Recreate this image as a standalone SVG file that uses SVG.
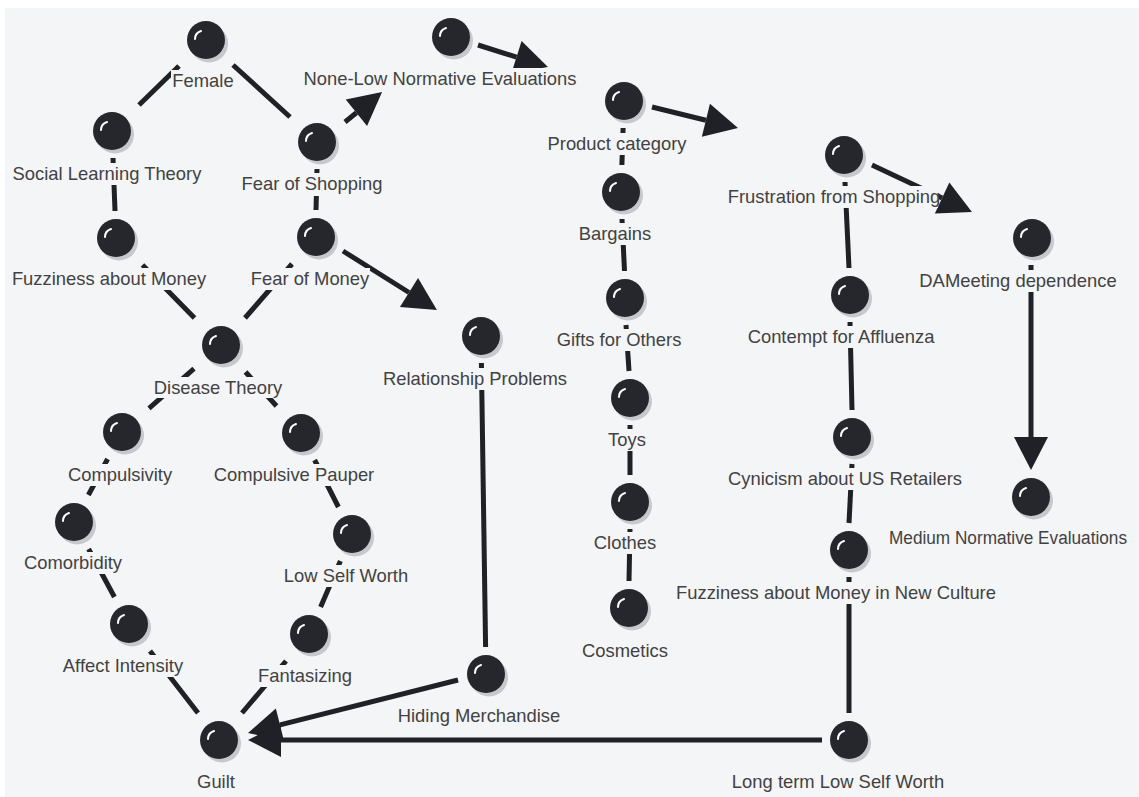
<svg xmlns="http://www.w3.org/2000/svg" width="1139" height="797" viewBox="0 0 1139 797">
<style>
.ln{stroke:#1f2126;stroke-width:5;fill:none;stroke-linecap:butt}
.ar{marker-end:url(#head)}
.lb{font-family:"Liberation Sans",Arial,sans-serif;font-size:18.4px;fill:#424242;text-anchor:middle}
.bg{fill:#f4f5f7}
</style>
<defs>
<marker id="head" markerUnits="userSpaceOnUse" markerWidth="34" markerHeight="36" refX="0" refY="18" orient="auto" overflow="visible">
<path d="M0,1 L33,18 L0,35 Z" fill="#1f2126"/>
</marker>
<g id="ball">
<circle cx="3" cy="3.5" r="19" fill="#c6c8ce"/>
<circle r="19" fill="#25272d"/>
<path d="M-11,-1 Q-11,-7 -5,-9" stroke="#ffffff" stroke-width="2" fill="none" stroke-linecap="round"/>
</g>
</defs>
<rect width="1139" height="797" fill="#ffffff"/>
<rect x="5" y="8" width="1134" height="789" fill="#f4f5f7"/>

<g id="connectors">
<line class="ln" x1="179" y1="66" x2="139" y2="105"/>
<line class="ln" x1="233" y1="65" x2="290" y2="117"/>
<line class="ln" x1="113" y1="158" x2="115" y2="211"/>
<line class="ln" x1="317" y1="169" x2="316" y2="210"/>
<line class="ln" x1="142.5" y1="265" x2="194.5" y2="318"/>
<line class="ln" x1="292" y1="264" x2="245" y2="318"/>
<line class="ln" x1="194" y1="368.7" x2="149" y2="408.3"/>
<line class="ln" x1="245.5" y1="372" x2="276.5" y2="406"/>
<line class="ln" x1="107.6" y1="459" x2="88.4" y2="495"/>
<line class="ln" x1="88.6" y1="549" x2="114.4" y2="597"/>
<line class="ln" x1="150" y1="651" x2="198" y2="713"/>
<line class="ln" x1="314.6" y1="460" x2="338.4" y2="507"/>
<line class="ln" x1="340.4" y1="561" x2="320.6" y2="607"/>
<line class="ln" x1="286" y1="661" x2="242" y2="713"/>
<line class="ln" x1="481.4" y1="363" x2="485.6" y2="647"/>
<line class="ln" x1="623.1" y1="128" x2="621.9" y2="165"/>
<line class="ln" x1="622" y1="219" x2="624.5" y2="271"/>
<line class="ln" x1="626" y1="325" x2="629" y2="371"/>
<line class="ln" x1="630" y1="425" x2="630" y2="475"/>
<line class="ln" x1="630" y1="529" x2="629" y2="581"/>
<line class="ln" x1="845" y1="182" x2="849" y2="268"/>
<line class="ln" x1="850" y1="322" x2="852" y2="410"/>
<line class="ln" x1="852" y1="464" x2="849" y2="523"/>
<line class="ln" x1="849" y1="577" x2="849" y2="713"/>
<line class="ln ar" x1="345" y1="122" x2="356.4" y2="112.8"/>
<line class="ln ar" x1="478" y1="45" x2="516.5" y2="57.1"/>
<line class="ln ar" x1="343" y1="251" x2="409" y2="292.5"/>
<line class="ln ar" x1="652" y1="107" x2="705.9" y2="120.2"/>
<line class="ln ar" x1="872" y1="165" x2="942.1" y2="198"/>
<line class="ln ar" x1="1031" y1="265" x2="1031" y2="437"/>
<line class="ln ar" x1="458" y1="680" x2="280" y2="724.9"/>
<line class="ln ar" x1="822" y1="740" x2="281" y2="740"/>
</g>

<g id="node-female"><rect class="bg" x="171" y="70" width="64" height="22"/><use href="#ball" x="206" y="40"/><text class="lb" x="203" y="87">Female</text></g>
<g id="node-social-learning"><rect class="bg" x="11" y="163" width="193" height="22"/><use href="#ball" x="112" y="131"/><text class="lb" x="107" y="180">Social Learning Theory</text></g>
<g id="node-fear-shopping"><rect class="bg" x="240" y="173" width="144" height="23"/><use href="#ball" x="317" y="142"/><text class="lb" x="312" y="190">Fear of Shopping</text></g>
<g id="node-fuzziness-money"><rect class="bg" x="11" y="268" width="195" height="22"/><use href="#ball" x="116" y="238"/><text class="lb" x="109" y="285">Fuzziness about Money</text></g>
<g id="node-fear-money"><rect class="bg" x="250" y="268" width="120" height="22"/><use href="#ball" x="316" y="237"/><text class="lb" x="310" y="285">Fear of Money</text></g>
<g id="node-none-low"><rect class="bg" x="302" y="68" width="277" height="22"/><use href="#ball" x="451" y="37"/><text class="lb" x="440" y="85">None-Low Normative Evaluations</text></g>
<g id="node-product-category"><rect class="bg" x="546" y="133" width="141" height="22"/><use href="#ball" x="624" y="101"/><text class="lb" x="617" y="150">Product category</text></g>
<g id="node-bargains"><rect class="bg" x="577" y="223" width="76" height="22"/><use href="#ball" x="621" y="192"/><text class="lb" x="615" y="240">Bargains</text></g>
<g id="node-gifts"><rect class="bg" x="555" y="329" width="129" height="22"/><use href="#ball" x="625" y="298"/><text class="lb" x="619" y="346">Gifts for Others</text></g>
<g id="node-toys"><rect class="bg" x="606" y="429" width="43" height="22"/><use href="#ball" x="630" y="398"/><text class="lb" x="627" y="446">Toys</text></g>
<g id="node-clothes"><rect class="bg" x="591" y="532" width="67" height="22"/><use href="#ball" x="630" y="502"/><text class="lb" x="625" y="549">Clothes</text></g>
<g id="node-cosmetics"><rect class="bg" x="580" y="640" width="89" height="22"/><use href="#ball" x="629" y="608"/><text class="lb" x="625" y="657">Cosmetics</text></g>
<g id="node-relationship"><rect class="bg" x="381" y="368" width="188" height="22"/><use href="#ball" x="481" y="336"/><text class="lb" x="475" y="385">Relationship Problems</text></g>
<g id="node-hiding"><rect class="bg" x="396" y="705" width="166" height="22"/><use href="#ball" x="486" y="674"/><text class="lb" x="479" y="722">Hiding Merchandise</text></g>
<g id="node-disease"><rect class="bg" x="152" y="377" width="133" height="21"/><use href="#ball" x="221" y="345"/><text class="lb" x="218" y="394">Disease Theory</text></g>
<g id="node-compulsivity"><rect class="bg" x="66" y="464" width="108" height="22"/><use href="#ball" x="122" y="432"/><text class="lb" x="120" y="481">Compulsivity</text></g>
<g id="node-compulsive-pauper"><rect class="bg" x="211" y="464" width="166" height="22"/><use href="#ball" x="301" y="433"/><text class="lb" x="294" y="481">Compulsive Pauper</text></g>
<g id="node-comorbidity"><rect class="bg" x="21" y="552" width="103" height="22"/><use href="#ball" x="74" y="522"/><text class="lb" x="73" y="569">Comorbidity</text></g>
<g id="node-low-self-worth"><rect class="bg" x="281" y="565" width="129" height="22"/><use href="#ball" x="352" y="534"/><text class="lb" x="346" y="582">Low Self Worth</text></g>
<g id="node-affect"><rect class="bg" x="61" y="655" width="124" height="22"/><use href="#ball" x="129" y="624"/><text class="lb" x="123" y="672">Affect Intensity</text></g>
<g id="node-fantasizing"><rect class="bg" x="256" y="665" width="98" height="22"/><use href="#ball" x="309" y="634"/><text class="lb" x="305" y="682">Fantasizing</text></g>
<g id="node-guilt"><use href="#ball" x="219" y="740"/><text class="lb" x="216" y="788">Guilt</text></g>
<g id="node-frustration"><rect class="bg" x="726" y="186" width="212" height="22"/><use href="#ball" x="844" y="155"/><text class="lb" x="834" y="203">Frustration from Shopping</text></g>
<g id="node-dameeting"><rect class="bg" x="920" y="270" width="197" height="22"/><use href="#ball" x="1032" y="238"/><text class="lb" x="1018" y="287">DAMeeting dependence</text></g>
<g id="node-contempt"><rect class="bg" x="745" y="326" width="192" height="22"/><use href="#ball" x="850" y="295"/><text class="lb" x="841" y="343">Contempt for Affluenza</text></g>
<g id="node-cynicism"><rect class="bg" x="726" y="468" width="238" height="22"/><use href="#ball" x="852" y="437"/><text class="lb" x="845" y="485">Cynicism about US Retailers</text></g>
<g id="node-fuzziness-new-culture"><rect class="bg" x="674" y="582" width="325" height="22"/><use href="#ball" x="849" y="550"/><text class="lb" x="836" y="599">Fuzziness about Money in New Culture</text></g>
<g id="node-long-term"><use href="#ball" x="849" y="740"/><text class="lb" x="838" y="788">Long term Low Self Worth</text></g>
<g id="node-medium"><use href="#ball" x="1031" y="497"/><text class="lb" x="889" y="544" style="text-anchor:start;font-size:17.6px" textLength="238" lengthAdjust="spacingAndGlyphs">Medium Normative Evaluations</text></g>
</svg>
